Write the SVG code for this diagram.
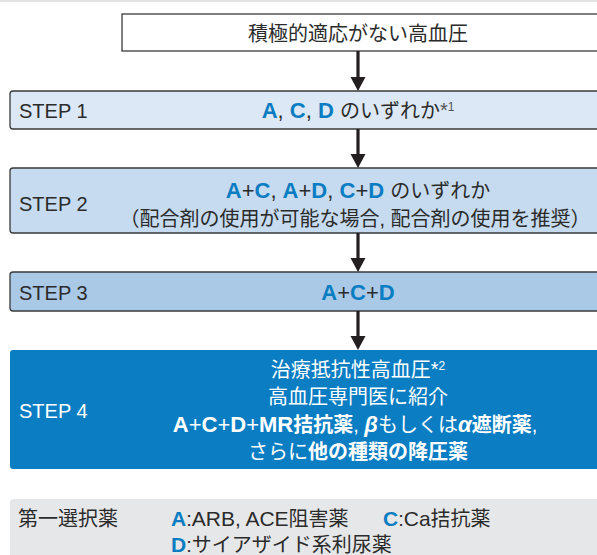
<svg xmlns="http://www.w3.org/2000/svg" width="597" height="555" viewBox="0 0 597 555">
<style>
text{font-family:"Liberation Sans","Noto Sans CJK JP",sans-serif;fill:#2b2b2b;font-size:20px}
.c{text-anchor:middle}
.l{font-size:22px}
.b{fill:#0a7cc2;font-weight:bold}
.w{fill:#ffffff}
.wb{fill:#ffffff;font-weight:bold}
.box{stroke:#3a3a3a;stroke-width:1.3}
.shaft{stroke:#231f20;stroke-width:3.2}
.head{fill:#231f20}
.leg{font-size:20px}
.ll{font-size:21px}
</style>
<rect x="0" y="0" width="597" height="2" fill="#e2e2e2"/>
<g id="start">
<rect class="box" x="122" y="14" width="490" height="37" fill="#ffffff"/>
<text class="c" x="358" y="41">積極的適応がない高血圧</text>
</g>
<g id="step1">
<rect class="box" x="10" y="91" width="600" height="38" rx="3" fill="#dce8f5"/>
<text x="19" y="118" font-size="20.5">STEP 1</text>
<text class="c" x="358" y="118"><tspan class="l"><tspan class="b">A</tspan>, <tspan class="b">C</tspan>, <tspan class="b">D</tspan> </tspan>のいずれか<tspan font-size="20" fill="#555" dy="-1">*</tspan><tspan font-size="12" dy="-6" fill="#555">1</tspan></text>
</g>
<g id="step2">
<rect class="box" x="10" y="168" width="600" height="65" rx="3" fill="#c6dbef"/>
<text x="19" y="211" font-size="20.5">STEP 2</text>
<text class="c" x="358" y="198"><tspan class="l"><tspan class="b">A</tspan>+<tspan class="b">C</tspan>, <tspan class="b">A</tspan>+<tspan class="b">D</tspan>, <tspan class="b">C</tspan>+<tspan class="b">D</tspan> </tspan>のいずれか</text>
<text class="c" x="355" y="226">（配合剤の使用が可能な場合, 配合剤の使用を推奨）</text>
</g>
<g id="step3">
<rect class="box" x="10" y="272" width="600" height="39" rx="3" fill="#a9c9e7"/>
<text x="19" y="300" font-size="20.5">STEP 3</text>
<text class="c l" x="358" y="300"><tspan class="b">A</tspan>+<tspan class="b">C</tspan>+<tspan class="b">D</tspan></text>
</g>
<g id="step4">
<rect x="10" y="350" width="600" height="119" rx="3" fill="#0a7dc3"/>
<text class="w" x="19" y="418" font-size="20.5">STEP 4</text>
<text class="c w" x="358" y="377">治療抵抗性高血圧<tspan font-size="20" dy="-1">*</tspan><tspan font-size="12" dy="-6">2</tspan></text>
<text class="c w" x="358" y="404">高血圧専門医に紹介</text>
<text class="c w" x="355" y="432"><tspan class="l"><tspan class="wb">A</tspan>+<tspan class="wb">C</tspan>+<tspan class="wb">D</tspan>+<tspan class="wb">MR</tspan></tspan><tspan class="wb">拮抗薬</tspan>, <tspan class="wb l" font-style="italic">β</tspan>もしくは<tspan class="wb l" font-style="italic">α</tspan><tspan class="wb">遮断薬</tspan>,</text>
<text class="c w" x="358" y="459">さらに<tspan class="wb">他の種類の降圧薬</tspan></text>
</g>
<g id="legend">
<rect x="10" y="499" width="600" height="70" rx="3" fill="#e6e7e8"/>
<text class="leg" x="18" y="526">第一選択薬</text>
<text class="leg" x="171" y="526"><tspan class="b ll">A</tspan>:<tspan class="ll">ARB, ACE</tspan>阻害薬</text>
<text class="leg" x="383" y="526"><tspan class="b ll">C</tspan>:<tspan class="ll">Ca</tspan>拮抗薬</text>
<text class="leg" x="171" y="552"><tspan class="b ll">D</tspan>:サイアザイド系利尿薬</text>
</g>
<g id="connectors">
<line class="shaft" x1="358" y1="51" x2="358" y2="79"/>
<polygon class="head" points="350.5,77 365.5,77 358,91"/>
<line class="shaft" x1="358" y1="129" x2="358" y2="156"/>
<polygon class="head" points="350.5,154 365.5,154 358,168"/>
<line class="shaft" x1="358" y1="233" x2="358" y2="260"/>
<polygon class="head" points="350.5,258 365.5,258 358,272"/>
<line class="shaft" x1="358" y1="311" x2="358" y2="338"/>
<polygon class="head" points="350.5,336 365.5,336 358,350"/>
</g>
</svg>
